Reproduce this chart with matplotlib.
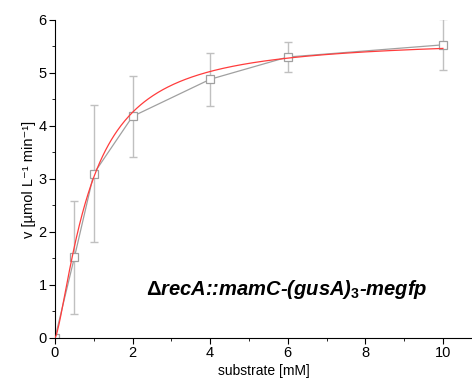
import matplotlib
matplotlib.use("Agg")
import matplotlib.pyplot as plt
import numpy as np
from matplotlib.ticker import MultipleLocator

plt.rcParams['font.family'] = ['Liberation Sans', 'DejaVu Sans']
plt.rcParams['mathtext.fontset'] = 'custom'
plt.rcParams['mathtext.rm'] = 'Liberation Sans'
plt.rcParams['mathtext.it'] = 'Liberation Sans:italic'
plt.rcParams['mathtext.bf'] = 'Liberation Sans:bold'

# measured data
substrate = [0, 0.5, 1, 2, 4, 6, 10]
velocity = [0, 1.52, 3.1, 4.18, 4.88, 5.3, 5.53]
err = [0, 1.07, 1.29, 0.77, 0.5, 0.28, 0.48]

# fitted curve parameters (Hill)
vmax = 5.65
km = 0.9
hill_n = 1.4

fig = plt.figure(figsize=(4.72, 3.83), dpi=100)
ax = fig.add_axes([0.1165, 0.1175, 0.8835, 0.8305])

ax.errorbar(substrate, velocity, yerr=err, fmt='none', ecolor='#c0c0c0',
            elinewidth=1.0, capsize=3, capthick=1.0, zorder=1)
ax.plot(substrate, velocity, color='#a0a0a0', lw=0.9, marker='s', ms=6,
        mfc='white', mec='#a0a0a0', mew=0.9, zorder=2)

xs = np.linspace(0, 10, 400)
ax.plot(xs, vmax * xs**hill_n / (km**hill_n + xs**hill_n), color='#ff3c3c',
        lw=0.9, zorder=3)

ax.set_xlim(0, 10.75)
ax.set_ylim(0, 6)
ax.xaxis.set_major_locator(MultipleLocator(2))
ax.xaxis.set_minor_locator(MultipleLocator(1))
ax.yaxis.set_major_locator(MultipleLocator(1))
ax.yaxis.set_minor_locator(MultipleLocator(0.5))
ax.spines['top'].set_visible(False)
ax.spines['right'].set_visible(False)
ax.tick_params(which='major', direction='out', length=4, labelsize=10.5, pad=2)
ax.tick_params(which='minor', direction='out', length=2.5)

ax.set_xlabel('substrate [mM]', fontsize=10, labelpad=3)
ax.set_ylabel('v [µmol L⁻¹ min⁻¹]', fontsize=10.5, labelpad=1.5)

ax.text(0.555, 0.152, r'$\mathbf{\Delta}$recA::mamC-(gusA)$_{\mathbf{3}}$-megfp',
        transform=ax.transAxes, ha='center', va='center', fontsize=14.5,
        fontweight='bold', fontstyle='italic')

fig.savefig('out.png', dpi=100)
